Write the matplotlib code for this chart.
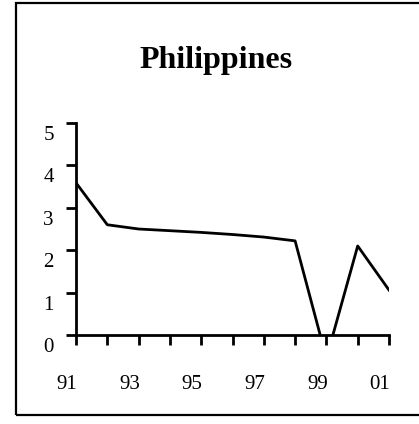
import matplotlib.pyplot as plt
import matplotlib.transforms as mtransforms
from matplotlib.patches import Rectangle

years = [91, 92, 93, 94, 95, 96, 97, 98, 99, 100, 101]
values = [3.59, 2.60, 2.50, 2.46, 2.42, 2.37, 2.31, 2.22, -0.55, 2.10, 1.06]
xtick_pos = [91, 93, 95, 97, 99, 101]
xtick_labels = ['91', '93', '95', '97', '99', '01']
ytick_pos = [0, 1, 2, 3, 4, 5]

plt.rcParams['font.family'] = ['Liberation Serif', 'DejaVu Serif']

W, H = 419, 424
fig = plt.figure(figsize=(W / 100, H / 100), dpi=100)

# frame around the chart (right edge falls outside the image)
fig.patches.append(Rectangle((16 / W, 1 - 415 / H), 1.0, (415 - 3) / H,
                             transform=fig.transFigure, fill=False,
                             edgecolor='black', linewidth=1.6))

ax = fig.add_axes([76 / W, 1 - 335 / H, (389 - 76) / W, (335 - 123) / H])
ax.plot(years, values, color='black', linewidth=2.0)

ax.set_xlim(91, 101)
ax.set_ylim(0, 5)
for s in ['top', 'right']:
    ax.spines[s].set_visible(False)
for s in ['left', 'bottom']:
    ax.spines[s].set_linewidth(2.0)

ax.set_xticks(years, minor=True)
ax.set_xticks(xtick_pos)
ax.set_xticklabels(xtick_labels, fontsize=15)
ax.set_yticks(ytick_pos)
ax.set_yticklabels([str(v) for v in ytick_pos], fontsize=15)
ax.tick_params(axis='x', which='both', direction='out', length=7, width=2.0, pad=22)
ax.tick_params(axis='y', direction='out', length=7, width=2.0, pad=9)

# labels sit a little off their ticks, as in the original
off_x = mtransforms.ScaledTranslation(-9 / 100, 0, fig.dpi_scale_trans)
for lbl in ax.get_xticklabels():
    lbl.set_transform(lbl.get_transform() + off_x)
off_y = mtransforms.ScaledTranslation(0, -10 / 100, fig.dpi_scale_trans)
for lbl in ax.get_yticklabels():
    lbl.set_transform(lbl.get_transform() + off_y)

fig.text(216 / W, 1 - 68 / H, 'Philippines', ha='center', va='baseline',
         fontsize=23, fontweight='bold')

fig.savefig('out.png', dpi=100)
